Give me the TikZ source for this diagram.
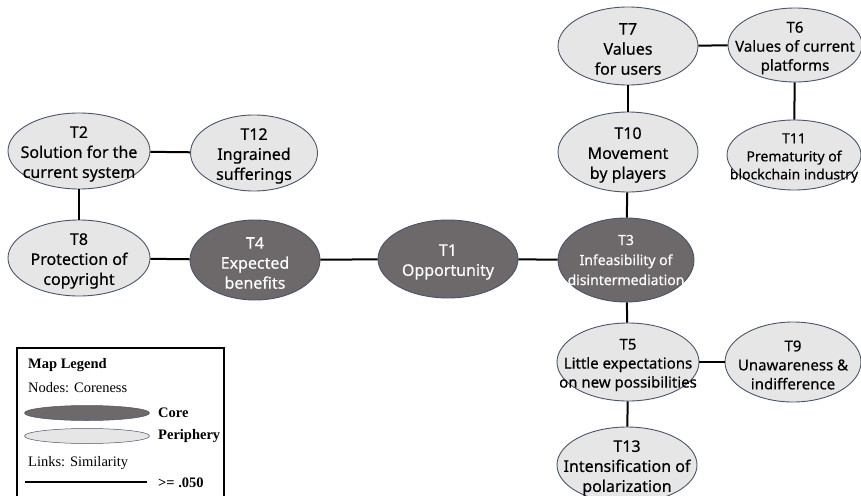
\documentclass[tikz,border=0pt]{standalone}
\usepackage{fontspec}
\setmainfont{Noto Sans}
\newfontfamily\nodefont{Noto Sans}[FakeBold=0.35]
\newfontfamily\legendfont{Liberation Serif}
\usetikzlibrary{shapes.geometric}
\definecolor{corefill}{HTML}{6D6869}
\definecolor{perifill}{HTML}{E6E6E6}
\definecolor{edgeblue}{HTML}{4A5568}
\tikzset{
  topic/.style={ellipse, draw=edgeblue, line width=0.9pt, inner sep=0pt},
  peri/.style={topic, fill=perifill},
  core/.style={topic, fill=corefill},
  lab/.style={inner sep=0pt, align=center, yshift=-3pt, font=\nodefont\fontsize{16}{20}\selectfont},
  perilab/.style={lab, text=black},
  corelab/.style={lab, text=white},
  link/.style={line width=2pt, black},
  legtext/.style={anchor=west, inner sep=0pt, font=\legendfont\fontsize{14.5}{16}\selectfont},
  legbold/.style={legtext, font=\legendfont\bfseries\fontsize{14.5}{16}\selectfont},
}
\begin{document}
\begin{tikzpicture}[x=1pt,y=-1pt]
\useasboundingbox (0,0) rectangle (861,495);
\clip (0,0) rectangle (861,495);
% nodes (shapes)
\node[peri, minimum width=142, minimum height=76] (T2) at (79,151) {};
\node[peri, minimum width=127, minimum height=76] (T12) at (254,153) {};
\node[peri, minimum width=142, minimum height=76] (T8) at (79,258) {};
\node[core, minimum width=130, minimum height=80] (T4) at (255,260) {};
\node[core, minimum width=140, minimum height=78] (T1) at (448,259) {};
\node[core, minimum width=136, minimum height=84] (T3) at (626,260) {};
\node[peri, minimum width=140, minimum height=78] (T7) at (628,46) {};
\node[peri, minimum width=134, minimum height=74] (T6) at (795,45) {};
\node[peri, minimum width=140, minimum height=80] (T10) at (628,152) {};
\node[peri, minimum width=134, minimum height=70] (T11) at (794,155) {};
\node[peri, minimum width=142, minimum height=78] (T5) at (628,362) {};
\node[peri, minimum width=136, minimum height=80] (T9) at (793,362) {};
\node[peri, minimum width=140, minimum height=76] (T13) at (627,465) {};
% labels
\node[perilab] (T2t) at (T2.center) {T2\\Solution for the\\current system};
\node[perilab] (T12t) at (T12.center) {T12\\Ingrained\\sufferings};
\node[perilab] (T8t) at (T8.center) {T8\\Protection of\\copyright};
\node[corelab] (T4t) at (T4.center) {T4\\Expected\\benefits};
\node[corelab] (T1t) at (T1.center) {T1\\Opportunity};
\node[corelab, yshift=3pt, font=\nodefont\fontsize{14}{20}\selectfont] (T3t) at (T3.center) {T3\\Infeasibility of\\disintermediation};
\node[perilab] (T7t) at (T7.center) {T7\\Values\\for users};
\node[perilab, font=\nodefont\fontsize{15}{19}\selectfont] (T6t) at (T6.center) {T6\\Values of current\\platforms};
\node[perilab] (T10t) at (T10.center) {T10\\Movement\\by players};
\node[perilab, font=\nodefont\fontsize{14}{18}\selectfont] (T11t) at (T11.center) {T11\\Prematurity of\\blockchain industry};
\node[perilab, font=\nodefont\fontsize{15}{19}\selectfont] (T5t) at (T5.center) {T5\\Little expectations\\on new possibilities};
\node[perilab, font=\nodefont\fontsize{15}{19}\selectfont] (T9t) at (T9.center) {T9\\Unawareness \&\\indifference};
\node[perilab] (T13t) at (T13.center) {T13\\Intensification of\\polarization};
% links
\draw[link] (T2) -- (T12);
\draw[link] (T2) -- (T8);
\draw[link] (T8) -- (T4);
\draw[link] (T4) -- (T1);
\draw[link] (T1) -- (T3);
\draw[link] (T3) -- (T10);
\draw[link] (T10) -- (T7);
\draw[link] (T7) -- (T6);
\draw[link] (T6) -- (T11);
\draw[link] (T3) -- (T5);
\draw[link] (T5) -- (T9);
\draw[link] (T5) -- (T13);
% legend
\node[draw=black, line width=2pt, minimum width=207, minimum height=160, anchor=north west, inner sep=0pt] (legbox) at (16,347) {};
\node[legbold] (lt) at (28,365) {Map Legend};
\node[legtext] (ln) at (28,388) {Nodes: Coreness};
\node[ellipse, fill=corefill, draw=edgeblue, line width=0.5pt, minimum width=125, minimum height=15, inner sep=0pt] (lcore) at (87,413) {};
\node[legbold] (lcoret) at (158,413) {Core};
\node[ellipse, fill=perifill, draw=edgeblue, line width=0.5pt, minimum width=125, minimum height=15, inner sep=0pt] (lperi) at (87,436) {};
\node[legbold] (lperit) at (158,436) {Periphery};
\node[legtext] (ll) at (28,463) {Links: Similarity};
\coordinate (la) at (25,482);
\coordinate (lb) at (147,482);
\draw[line width=1.6pt] (la) -- (lb);
\node[legbold] (lv) at (158,483) {>= .050};
\end{tikzpicture}
\end{document}
